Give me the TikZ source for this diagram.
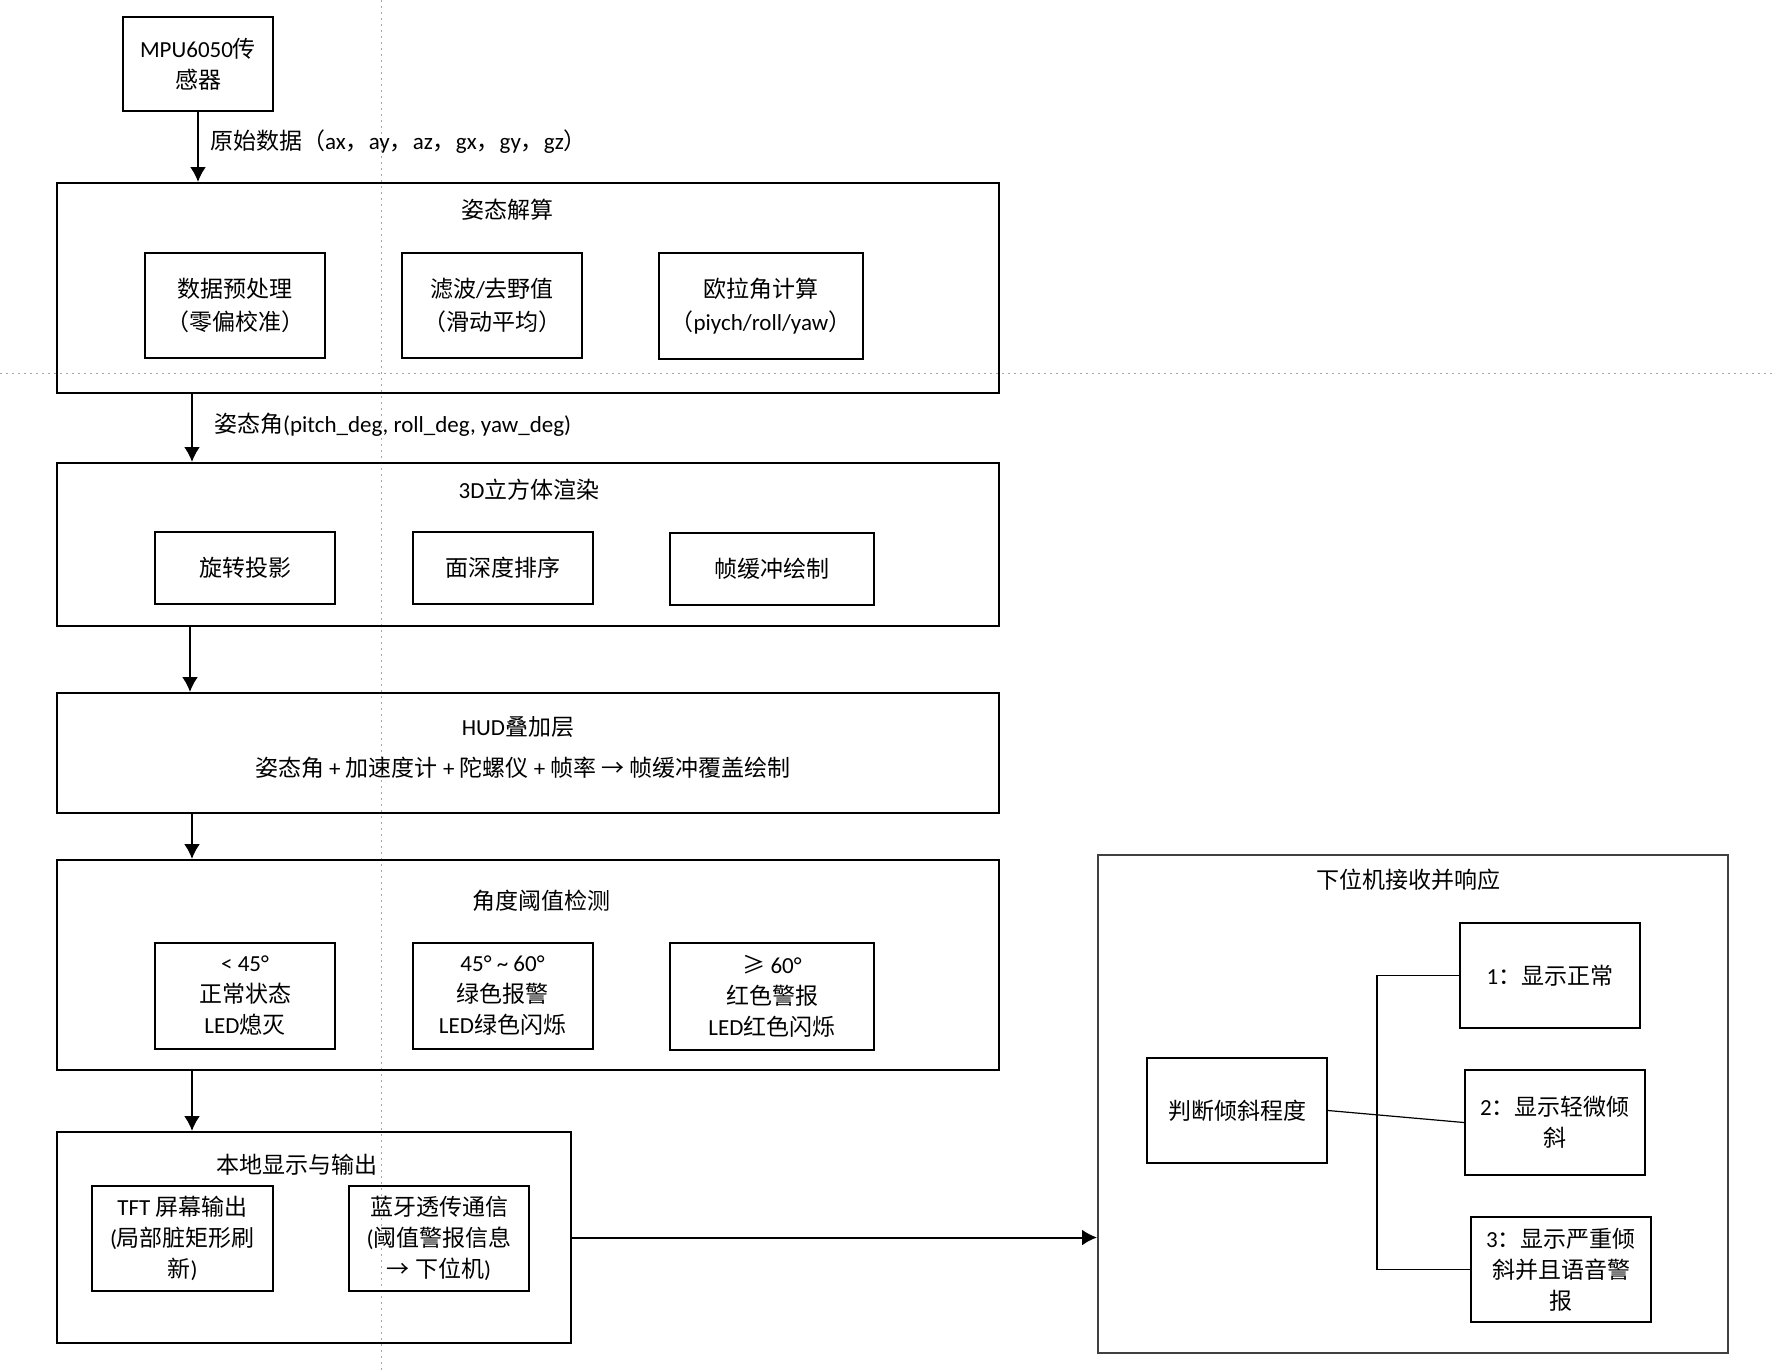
\documentclass[tikz,border=0pt]{standalone}
\usepackage{fontspec}
\setmainfont{Carlito}
\newfontfamily\zhfont{Noto Sans CJK SC}
% Chinese characters are set in \zhfont
\XeTeXinterchartokenstate=1
\newXeTeXintercharclass\zhclass
\newcount\zhcode
\newcommand\zhrange[2]{\zhcode=#1 \loop\XeTeXcharclass\zhcode=\zhclass \ifnum\zhcode<#2 \advance\zhcode by 1 \repeat}
\zhrange{"4E00}{"9FFF}
\zhrange{"3000}{"303F}
\zhrange{"FF00}{"FFEF}
\XeTeXcharclass"2192=\zhclass
\XeTeXcharclass"2265=\zhclass
\XeTeXinterchartoks 0 \zhclass = {\begingroup\zhfont}
\XeTeXinterchartoks 4095 \zhclass = {\begingroup\zhfont}
\XeTeXinterchartoks \zhclass 0 = {\endgroup}
\XeTeXinterchartoks \zhclass 4095 = {\endgroup}
\usepackage{tikz}
\usetikzlibrary{arrows.meta,positioning,calc}

\tikzset{
  stage/.style={draw, line width=1pt, inner sep=0pt, minimum width=471pt},
  unit/.style={draw, line width=1pt, align=center, inner sep=0pt, minimum width=90pt, minimum height=52.5pt},
  flow/.style={-{Latex[length=7.5pt,width=8pt]}, line width=1pt},
  link/.style={line width=0.6pt},
  guide/.style={gray!70, line width=0.5pt, dash pattern=on 1pt off 2pt},
  every node/.style={font=\fontsize{11.5pt}{15.5pt}\selectfont},
}

\begin{document}
\begin{tikzpicture}[x=0.5pt, y=-0.5pt]
    \useasboundingbox (0,0) rectangle (1776,1371);
    \draw[guide] (381,0) -- (381,1371);
    \draw[guide] (0,373) -- (1776,373);

    \node[unit, minimum width=75pt, minimum height=47pt] (mpu) at (198,64) {MPU6050传\\感器};

    % attitude solving
    \node[stage, minimum height=105pt] (solve) at (528,288) {};
    \node (solvetitle) at (507,210) {姿态解算};
    \node[unit, font=\fontsize{11.5pt}{16.5pt}\selectfont] (pre) at (235,305.5) {数据预处理\\（零偏校准）};
    \node[unit, font=\fontsize{11.5pt}{16.5pt}\selectfont] (filt) at (492,305.5) {滤波/去野值\\（滑动平均）};
    \node[unit, minimum width=102pt, minimum height=53pt, font=\fontsize{11.5pt}{16.5pt}\selectfont] (euler) at (761,306) {欧拉角计算\\（piych/roll/yaw）};

    % cube rendering
    \node[stage, minimum height=81.5pt] (render) at (528,544.5) {};
    \node (rendertitle) at (529,490) {3D立方体渲染};
    \node[unit, minimum height=36pt] (rot) at (245,568) {旋转投影};
    \node[unit, minimum height=36pt] (sort) at (502.5,568) {面深度排序};
    \node[unit, minimum width=102pt, minimum height=36pt] (fb) at (772,569) {帧缓冲绘制};

    % HUD
    \node[stage, minimum height=60pt] (hud) at (528,753) {};
    \node (hudtitle) at (518,727) {HUD叠加层};
    \node (hudtext) at (523,768) {姿态角 + 加速度计 + 陀螺仪 + 帧率 → 帧缓冲覆盖绘制};

    % thresholds
    \node[stage, minimum height=105pt] (detect) at (528,965) {};
    \node (detecttitle) at (541,901) {角度阈值检测};
    \node[unit, minimum height=53pt] (th1) at (245,996) {< 45°\\正常状态\\LED熄灭};
    \node[unit, minimum height=53pt] (th2) at (502.5,996) {45° \textasciitilde{} 60°\\绿色报警\\LED绿色闪烁};
    \node[unit, minimum width=102pt, minimum height=53.5pt] (th3) at (772,996.5) {≥ 60°\\红色警报\\LED红色闪烁};

    % local output
    \node[stage, minimum width=257pt, minimum height=105.5pt] (local) at (314,1237.5) {};
    \node (localtitle) at (297,1165) {本地显示与输出};
    \node[unit, minimum width=90.5pt] (tft) at (182.5,1238.5) {TFT 屏幕输出\\(局部脏矩形刷\\新)};
    \node[unit] (bt) at (439,1238.5) {蓝牙透传通信\\(阈值警报信息\\→ 下位机)};

    % slave side
    \node[stage, draw=black!75, minimum width=315pt, minimum height=249pt] (slave) at (1413,1104) {};
    \node (slavetitle) at (1408,880) {下位机接收并响应};
    \node[unit] (judge) at (1237,1110.5) {判断倾斜程度};
    \node[unit] (r1) at (1550,975.5) {1：显示正常};
    \node[unit] (r2) at (1555,1122.5) {2：显示轻微倾\\斜};
    \node[unit] (r3) at (1561,1269.5) {3：显示严重倾\\斜并且语音警\\报};
    \coordinate (bus) at (1377,0);

    \draw[flow] (mpu) -- (mpu |- solve.north);
    \node[anchor=west] (rawlabel) at (203,142) {原始数据（ax，ay，az，gx，gy，gz）};
    \draw[flow] ([xshift=68pt]solve.south west) -- ([xshift=68pt]render.north west);
    \node[anchor=west] (anglabel) at (207,425) {姿态角(pitch\_deg, roll\_deg, yaw\_deg)};
    \draw[flow] ([xshift=67pt]render.south west) -- ([xshift=67pt]hud.north west);
    \draw[flow] ([xshift=68pt]hud.south west) -- ([xshift=68pt]detect.north west);
    \draw[flow] ([xshift=68pt]detect.south west) -- ([xshift=68pt]local.north west);
    \draw[flow] (local.east) -- (local.east -| slave.west);

    \draw[link] (r1.west) -- (r1.west -| bus) -- (r3.west -| bus) -- (r3.west);
    \draw[link] (judge.east) -- (r2.west);
\end{tikzpicture}
\end{document}
